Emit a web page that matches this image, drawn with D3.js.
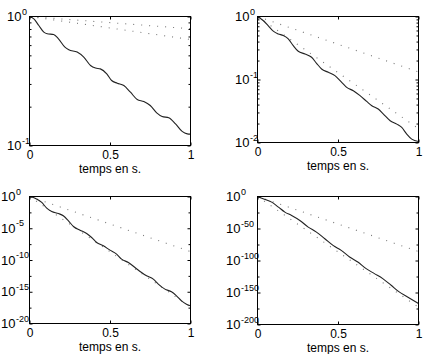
<!DOCTYPE html>
<html>
<head>
<meta charset="utf-8">
<script src="https://cdn.jsdelivr.net/npm/d3@7"></script>
<style>
  body { margin: 0; background: #fff; }
  text { font-family: "Liberation Sans", Arial, Helvetica, sans-serif; fill: #000; }
</style>
</head>
<body>
<div id="chart"></div>
<script>
// values are log10 of the plotted quantity
const xTicks = [0, 0.5, 1];
const xLabel = "temps en s.";

const p1Time = [0, 0.027, 0.058, 0.089, 0.11, 0.15, 0.18, 0.22, 0.244, 0.296, 0.337, 0.379, 0.41, 0.44, 0.48, 0.51, 0.545, 0.586, 0.627, 0.669, 0.71, 0.75, 0.79, 0.824, 0.865, 0.907, 0.948, 0.98, 1];
const p1Solid = [0, -0.018, -0.07, -0.121, -0.134, -0.14, -0.173, -0.238, -0.258, -0.276, -0.315, -0.38, -0.4, -0.406, -0.444, -0.496, -0.517, -0.535, -0.587, -0.643, -0.659, -0.69, -0.747, -0.775, -0.785, -0.832, -0.891, -0.91, -0.912];

const p2Time = [0, 0.035, 0.066, 0.098, 0.129, 0.16, 0.191, 0.222, 0.253, 0.295, 0.336, 0.367, 0.398, 0.44, 0.481, 0.523, 0.554, 0.595, 0.637, 0.678, 0.71, 0.75, 0.782, 0.824, 0.865, 0.896, 0.927, 0.958, 1];
const p2Solid = [0, -0.064, -0.143, -0.233, -0.276, -0.302, -0.355, -0.462, -0.552, -0.594, -0.647, -0.743, -0.833, -0.886, -0.939, -1.045, -1.125, -1.178, -1.257, -1.347, -1.416, -1.469, -1.549, -1.655, -1.708, -1.761, -1.867, -1.947, -1.985];

const p3Time = [0, 0.035, 0.076, 0.107, 0.138, 0.18, 0.21, 0.242, 0.273, 0.314, 0.355, 0.386, 0.417, 0.459, 0.5, 0.541, 0.572, 0.614, 0.655, 0.696, 0.727, 0.769, 0.8, 0.841, 0.882, 0.913, 0.944, 0.975, 1];
const p3Solid = [0, -0.26, -0.94, -1.84, -2.36, -2.68, -3.04, -3.83, -4.72, -5.3, -5.83, -6.46, -7.24, -7.77, -8.45, -9.08, -9.87, -10.39, -11.18, -11.97, -12.49, -13.02, -13.8, -14.59, -15.01, -15.64, -16.43, -16.96, -17.22];

const p4Time = [0, 0.047, 0.088, 0.13, 0.17, 0.212, 0.263, 0.315, 0.366, 0.418, 0.469, 0.52, 0.572, 0.623, 0.675, 0.726, 0.778, 0.83, 0.88, 0.932, 1];
const p4Solid = [0, -4.7, -8.8, -16.6, -24.4, -29.6, -37.4, -47.8, -55.6, -66, -76.4, -84.2, -94.5, -102.3, -112.7, -120.5, -128.3, -138.7, -149.1, -156.9, -167.3];

// the dotted reference lines are straight in log scale: start and end
const dotTime = [0, 1];
const p1DotA = [0, -0.095], p1DotB = [0, -0.178];
const p2DotA = [0, -0.88], p2DotB = [0, -1.78];
const p3DotA = [0, -8.67], p3DotB = [0, -17.4];
const p4DotA = [0, -86], p4DotB = [0, -173];

const p1Exp = [0, -1];
const p2Exp = [0, -1, -2];
const p3Exp = [0, -5, -10, -15, -20];
const p4Exp = [0, -50, -100, -150, -200];

const width = 427, height = 354;

let svg = d3.select("#chart").append("svg")
  .attr("width", width)
  .attr("height", height);

const panels = [
  { box: [29, 190, 16, 145], exps: p1Exp, time: p1Time, solid: p1Solid, dots: [p1DotA, p1DotB], gap: 8,
    minor: d3.range(2, 10).map(d => d / 10) },
  { box: [257, 418, 16, 142], exps: p2Exp, time: p2Time, solid: p2Solid, dots: [p2DotA, p2DotB], gap: 8,
    minor: d3.range(2, 10).map(d => d / 10).concat(d3.range(2, 10).map(d => d / 100)) },
  { box: [29, 190, 196, 323], exps: p3Exp, time: p3Time, solid: p3Solid, dots: [p3DotA, p3DotB], gap: 14,
    minor: [-2.5, -7.5, -12.5, -17.5].map(e => Math.pow(10, e)) },
  { box: [257, 418, 196, 324], exps: p4Exp, time: p4Time, solid: p4Solid, dots: [p4DotA, p4DotB], gap: 17,
    minor: [-25, -75, -125, -175].map(e => Math.pow(10, e)) }
];

panels.forEach(function (p) {
  let [x0, x1, y0, y1] = p.box.map(v => v + 0.5);
  let lo = d3.min(p.exps);

  let x = d3.scaleLinear().domain([0, 1]).range([x0, x1]);
  let y = d3.scaleLog().domain([Math.pow(10, lo), 1]).range([y1, y0]);

  let g = svg.append("g");

  let line = d3.line()
    .x(d => x(d[0]))
    .y(d => y(Math.pow(10, d[1])))
    .curve(d3.curveMonotoneX);

  p.dots.forEach(function (ser) {
    g.append("path")
      .datum(dotTime.map((t, i) => [t, ser[i]]))
      .attr("d", line)
      .attr("fill", "none")
      .attr("stroke", "#777")
      .attr("stroke-width", 1.1)
      .attr("stroke-dasharray", "1,7");
  });

  g.append("path")
    .datum(p.time.map((t, i) => [t, p.solid[i]]))
    .attr("d", line)
    .attr("fill", "none")
    .attr("stroke", "#222")
    .attr("stroke-width", 1.1);

  let majors = p.exps.map(e => Math.pow(10, e));

  // ticks on all four sides, pointing inwards
  g.append("g").attr("transform", `translate(0,${y1})`)
    .call(d3.axisBottom(x).tickValues(xTicks).tickSize(-3).tickSizeOuter(0).tickPadding(4.5)
      .tickFormat(d3.format("")))
    .call(a => a.selectAll("text").attr("font-size", 12));
  g.append("g").attr("transform", `translate(0,${y0})`)
    .call(d3.axisTop(x).tickValues(xTicks).tickSize(-3).tickSizeOuter(0).tickFormat(""));
  g.append("g").attr("transform", `translate(${x0},0)`)
    .call(d3.axisLeft(y).tickValues(majors).tickSize(-3).tickSizeOuter(0).tickFormat(""));
  g.append("g").attr("transform", `translate(${x1},0)`)
    .call(d3.axisRight(y).tickValues(majors).tickSize(-3).tickSizeOuter(0).tickFormat(""));
  g.append("g").attr("transform", `translate(${x0},0)`)
    .call(d3.axisLeft(y).tickValues(p.minor).tickSize(-2).tickSizeOuter(0).tickFormat(""));
  g.append("g").attr("transform", `translate(${x1},0)`)
    .call(d3.axisRight(y).tickValues(p.minor).tickSize(-2).tickSizeOuter(0).tickFormat(""));

  g.selectAll(".domain").attr("stroke", "none");
  g.selectAll(".tick line").attr("stroke", "#000");

  g.append("rect")
    .attr("x", x0).attr("y", y0)
    .attr("width", x1 - x0).attr("height", y1 - y0)
    .attr("fill", "none")
    .attr("stroke", "#000")
    .attr("stroke-width", 1);

  // y labels as 10 with a raised exponent
  p.exps.forEach(function (e) {
    let ty = y(Math.pow(10, e));
    g.append("text")
      .attr("x", x0 - p.gap)
      .attr("y", ty + 4.5)
      .attr("text-anchor", "end")
      .attr("font-size", 13)
      .text("10");
    g.append("text")
      .attr("x", x0 - p.gap + 0.5)
      .attr("y", ty - 2)
      .attr("font-size", 9)
      .text(e);
  });

  g.append("text")
    .attr("x", (x0 + x1) / 2)
    .attr("y", y1 + 27)
    .attr("text-anchor", "middle")
    .attr("font-size", 12)
    .text(xLabel);
});
</script>
</body>
</html>
